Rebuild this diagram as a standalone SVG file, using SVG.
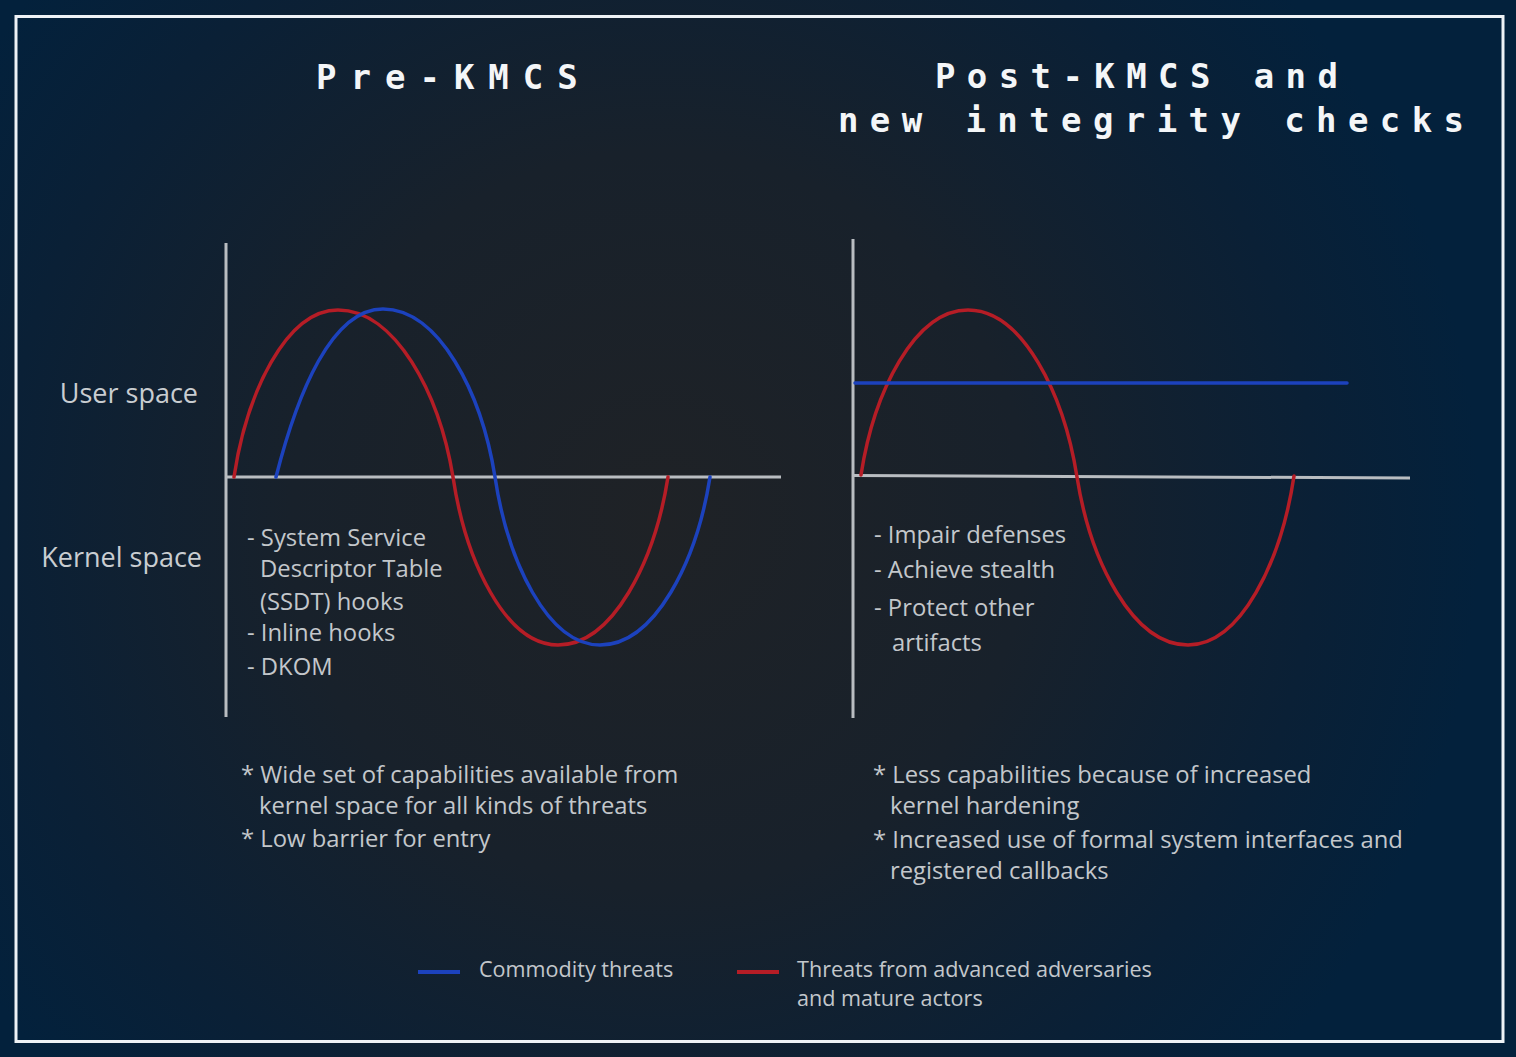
<svg xmlns="http://www.w3.org/2000/svg" width="1516" height="1057" viewBox="0 0 1516 1057">
  <defs>
    <radialGradient id="bg" cx="660" cy="520" r="820" gradientUnits="userSpaceOnUse">
      <stop offset="0" stop-color="#1f2226"/>
      <stop offset="0.45" stop-color="#18212b"/>
      <stop offset="0.8" stop-color="#0a2036"/>
      <stop offset="1" stop-color="#03213c"/>
    </radialGradient>
    <style>
      .title { font-family: "DejaVu Sans Mono", "Liberation Mono", monospace; font-weight: bold; font-size: 34px; fill: #f4f6f8; }
      .lbl { font-family: "Open Sans", "Noto Sans", sans-serif; font-size: 27px; fill: #c9cdd1; }
      .txt { font-family: "Open Sans", "Noto Sans", sans-serif; font-size: 23.8px; fill: #c3c7cb; }
      .leg { font-family: "Open Sans", "Noto Sans", sans-serif; font-size: 21.6px; fill: #c3c7cb; }
      .axis { stroke: #b9bdc1; stroke-width: 3; fill: none; }
      .red { stroke: #b51d26; stroke-width: 3.5; fill: none; stroke-linecap: round; }
      .blue { stroke: #1c42bd; stroke-width: 3.5; fill: none; stroke-linecap: round; }
    </style>
  </defs>

  <rect x="0" y="0" width="1516" height="1057" fill="url(#bg)"/>
  <rect x="16" y="16.5" width="1487" height="1025" fill="none" stroke="#eef2f6" stroke-width="3"/>

  <g id="title-left">
    <text class="title" x="316" y="89" letter-spacing="14">Pre-KMCS</text>
  </g>
  <g id="title-right">
    <text class="title" x="935" y="88" letter-spacing="11.4">Post-KMCS and</text>
    <text class="title" x="838" y="132" letter-spacing="11.4">new integrity checks</text>
  </g>

  <g id="axis-labels">
    <text class="lbl" x="198" y="403" text-anchor="end">User space</text>
    <text class="lbl" x="202" y="567" text-anchor="end">Kernel space</text>
  </g>

  <g id="axes">
    <line class="axis" x1="226" y1="243" x2="226" y2="717"/>
    <line class="axis" x1="226" y1="477" x2="781" y2="477"/>
    <line class="axis" x1="853" y1="239" x2="853" y2="718"/>
    <line class="axis" x1="853" y1="475.5" x2="1410" y2="478"/>
  </g>

  <g id="series">
    <path class="red" d="M234,477 C246.5,393.5 286,310 338,310 C395.5,310 439.2,393.5 453,477 C465.6,561 505.5,645 558,645 C613,645 654.8,561 668,477"/>
    <path class="blue" d="M276,477 C297.4,393 331.6,309 383,309 C439,309 481.6,393 495,477 C507.6,561 547.5,645 600,645 C655,645 696.8,561 710,477"/>
    <path class="red" d="M861,475 C873.8,392 914.5,310 968,310 C1022.5,310 1063.9,394 1077,477 C1090.3,561 1132.5,645 1188,645 C1241,645 1281.3,561 1294,476"/>
    <line class="blue" x1="855" y1="383" x2="1347" y2="383" stroke-linecap="butt"/>
  </g>

  <g id="list-left">
    <text class="txt" x="247" y="546">- System Service</text>
    <text class="txt" x="260" y="577">Descriptor Table</text>
    <text class="txt" x="260" y="610">(SSDT) hooks</text>
    <text class="txt" x="247" y="641">- Inline hooks</text>
    <text class="txt" x="247" y="675">- DKOM</text>
  </g>

  <g id="list-right">
    <text class="txt" x="874" y="543">- Impair defenses</text>
    <text class="txt" x="874" y="578">- Achieve stealth</text>
    <text class="txt" x="874" y="616">- Protect other</text>
    <text class="txt" x="892" y="651">artifacts</text>
  </g>

  <g id="notes-left">
    <text class="txt" x="241" y="783">* Wide set of capabilities available from</text>
    <text class="txt" x="259" y="814">kernel space for all kinds of threats</text>
    <text class="txt" x="241" y="847">* Low barrier for entry</text>
  </g>

  <g id="notes-right">
    <text class="txt" x="873" y="783">* Less capabilities because of increased</text>
    <text class="txt" x="890" y="814">kernel hardening</text>
    <text class="txt" x="873" y="848">* Increased use of formal system interfaces and</text>
    <text class="txt" x="890" y="879">registered callbacks</text>
  </g>

  <g id="legend">
    <line x1="418" y1="972" x2="460" y2="972" stroke="#1c42bd" stroke-width="4"/>
    <text class="leg" x="479" y="977">Commodity threats</text>
    <line x1="737" y1="972" x2="779" y2="972" stroke="#b51d26" stroke-width="4"/>
    <text class="leg" x="797" y="977">Threats from advanced adversaries</text>
    <text class="leg" x="797" y="1006">and mature actors</text>
  </g>
</svg>
